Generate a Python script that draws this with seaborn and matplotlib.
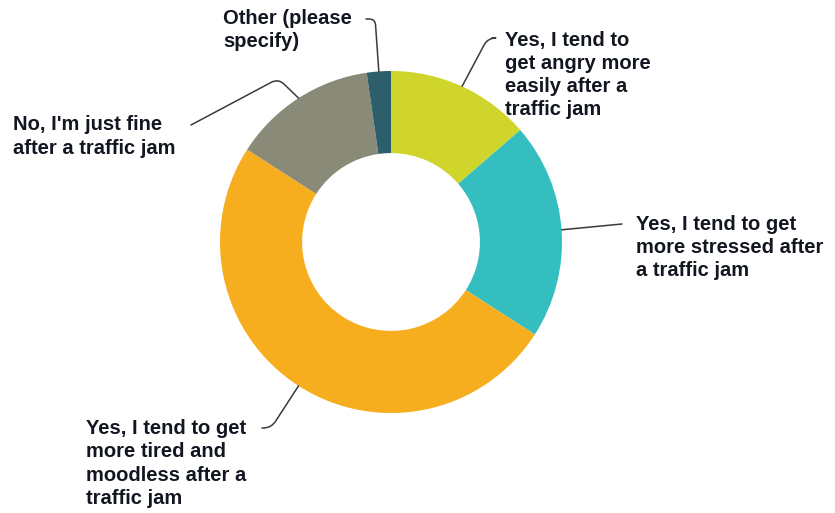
import numpy as np
import matplotlib
matplotlib.use("Agg")
import matplotlib.pyplot as plt
import seaborn as sns

# Survey responses: "Does a traffic jam affect your mood?"
categories = [
    "Yes, I tend to\nget angry more\neasily after a\ntraffic jam",
    "Yes, I tend to get\nmore stressed after\na traffic jam",
    "Yes, I tend to get\nmore tired and\nmoodless after a\ntraffic jam",
    "No, I'm just fine\nafter a traffic jam",
    "Other (please\nspecify)",
]
counts = [6, 9, 22, 6, 1]
colors = ["#CFD52B", "#35BEC0", "#F6AE1F", "#8A8A78", "#2D5E6B"]

sns.set_theme(style="white")
plt.rcParams["font.family"] = ["Liberation Sans", "DejaVu Sans"]

W, H = 835, 513
fig = plt.figure(figsize=(W / 100, H / 100), dpi=100)
ax = fig.add_axes([0, 0, 1, 1])

cx, cy, R = 391, H - 242, 171
wedges, _ = ax.pie(
    counts,
    colors=colors,
    startangle=90,
    counterclock=False,
    center=(cx, cy),
    radius=R,
    wedgeprops=dict(width=R * 0.48, linewidth=0),
    frame=True,
)
ax.set_xlim(0, W)
ax.set_ylim(0, H)
ax.set_aspect("equal")
ax.axis("off")

# label placement: (left x, block centre y in image rows), leader start, connector style
label_specs = [
    dict(pos=(505, 75), start=(492, 38), conn="angle,angleA=0,angleB=62,rad=8"),
    dict(pos=(636, 247.5), start=(622, 224), conn="arc3,rad=0"),
    dict(pos=(86, 463.5), start=(262, 428), conn="angle,angleA=0,angleB=57,rad=8"),
    dict(pos=(13, 136.5), start=(191, 125), conn="angle,angleA=28,angleB=136,rad=8"),
    dict(pos=(223, 30), start=(366, 19), conn="angle,angleA=0,angleB=94,rad=6"),
]

for w, label, spec in zip(wedges, categories, label_specs):
    mid = np.deg2rad((w.theta1 + w.theta2) / 2)
    rim = (cx + R * np.cos(mid), cy + R * np.sin(mid))
    x, y = spec["pos"]
    ax.text(x, H - y, label, ha="left", va="center", fontsize=14.5,
            fontweight="bold", color="#121620", linespacing=1.28)
    sx, sy = spec["start"]
    ax.annotate("", xy=rim, xytext=(sx, H - sy),
                arrowprops=dict(arrowstyle="-", color="#3a3a3a", lw=1.1,
                                connectionstyle=spec["conn"],
                                shrinkA=0, shrinkB=0))

fig.savefig("out.png", dpi=100)
